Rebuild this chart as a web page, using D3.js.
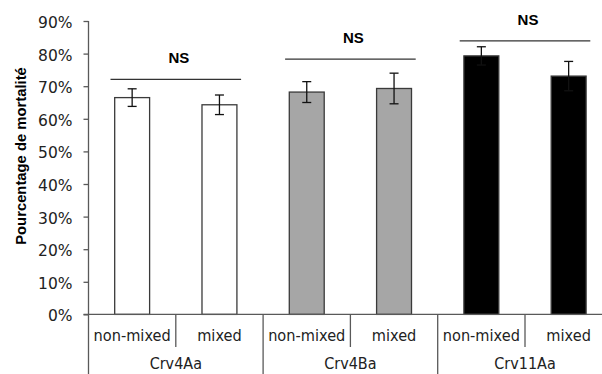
<!DOCTYPE html>
<html>
<head>
<meta charset="utf-8">
<script src="https://cdn.jsdelivr.net/npm/d3@7"></script>
<style>
  html, body { margin: 0; padding: 0; background: #fff; }
  svg { display: block; }
</style>
</head>
<body>
<svg id="chart" width="602" height="374"></svg>
<script>
const groups = ["Crv4Aa", "Crv4Ba", "Crv11Aa"];
const conditions = ["non-mixed", "mixed"];
const values = [66.5, 64.3, 68.2, 69.3, 79.3, 73.1];
const errors = [2.7, 3.0, 3.2, 4.7, 2.8, 4.5];
const nsLevels = [72.1, 78.3, 83.9];
const nsLabels = ["NS", "NS", "NS"];
const yTicks = [0, 10, 20, 30, 40, 50, 60, 70, 80, 90];
const yTitle = "Pourcentage de mortalité";
const groupFills = ["#ffffff", "#a6a6a6", "#000000"];

const rows = [];
groups.forEach((g, gi) => conditions.forEach((c, ci) => {
  const i = gi * conditions.length + ci;
  rows.push({ key: g + "|" + c, group: g, gi, cond: c, value: values[i], err: errors[i] });
}));

const svg = d3.select("#chart");
const axisColor = "#595959";
const x0 = 88.5, x1 = 612.3;
const x = d3.scaleBand().domain(rows.map(d => d.key)).range([x0, x1]).paddingInner(0.6).paddingOuter(0.3);
const xg = d3.scaleBand().domain(groups).range([x0, x1]);
const y = d3.scaleLinear().domain([0, 90]).range([314.4, 21]);

// Y axis
const yAxis = d3.axisLeft(y).tickValues(yTicks).tickSize(5).tickPadding(11).tickFormat(d => d + "%");
const ya = svg.append("g").attr("transform", `translate(${x0},0)`).call(yAxis);
ya.select(".domain").remove();
ya.selectAll(".tick line").attr("stroke", axisColor).attr("stroke-width", 1.3);
ya.selectAll(".tick text").attr("font-family", "DejaVu Sans, sans-serif").attr("font-size", 15.5)
  .attr("fill", "#222").attr("dy", "0.42em");
svg.append("line").attr("x1", x0).attr("x2", x0).attr("y1", y(90)).attr("y2", 374)
  .attr("stroke", axisColor).attr("stroke-width", 1.3);

// Bars
svg.append("g").selectAll("rect").data(rows).join("rect")
  .attr("x", d => x(d.key)).attr("width", x.bandwidth())
  .attr("y", d => y(d.value)).attr("height", d => y(0) - y(d.value))
  .attr("fill", d => groupFills[d.gi]).attr("stroke", "#3a3a3a").attr("stroke-width", 1.3);

// Error bars
const eb = svg.append("g").attr("stroke", "#111").attr("stroke-width", 1.3);
rows.forEach(d => {
  const cx = x(d.key) + x.bandwidth() / 2;
  eb.append("line").attr("x1", cx).attr("x2", cx).attr("y1", y(d.value + d.err)).attr("y2", y(d.value - d.err));
  [d.value + d.err, d.value - d.err].forEach(v => {
    eb.append("line").attr("x1", cx - 4.5).attr("x2", cx + 4.5).attr("y1", y(v)).attr("y2", y(v));
  });
});

// X axis line
svg.append("line").attr("x1", x0 - 5).attr("x2", 602).attr("y1", y(0)).attr("y2", y(0))
  .attr("stroke", axisColor).attr("stroke-width", 1.3);

// Separators
groups.forEach((g, gi) => {
  const gs = xg(g), ge = gs + xg.bandwidth();
  svg.append("line").attr("x1", ge).attr("x2", ge).attr("y1", y(0)).attr("y2", 374)
    .attr("stroke", axisColor).attr("stroke-width", 1.3);
  const mid = gs + xg.bandwidth() / 2;
  svg.append("line").attr("x1", mid).attr("x2", mid).attr("y1", y(0)).attr("y2", 347)
    .attr("stroke", axisColor).attr("stroke-width", 1.3);
});

// X labels
svg.append("g").selectAll("text").data(rows).join("text")
  .attr("transform", d => `translate(${x(d.key) + x.bandwidth() / 2},341) scale(0.94,1)`)
  .attr("text-anchor", "middle").attr("font-family", "DejaVu Sans, sans-serif")
  .attr("font-size", 15.5).attr("fill", "#222").text(d => d.cond);
svg.append("g").selectAll("text").data(groups).join("text")
  .attr("transform", g => `translate(${xg(g) + xg.bandwidth() / 2},369) scale(0.96,1)`)
  .attr("text-anchor", "middle").attr("font-family", "DejaVu Sans, sans-serif")
  .attr("font-size", 15).attr("fill", "#222").text(g => g);

// NS brackets
groups.forEach((g, gi) => {
  const gs = xg(g), ge = gs + xg.bandwidth();
  const ly = y(nsLevels[gi]);
  svg.append("line").attr("x1", gs + 22).attr("x2", ge - 22).attr("y1", ly).attr("y2", ly)
    .attr("stroke", "#333").attr("stroke-width", 1.3);
  svg.append("text").attr("x", gs + xg.bandwidth() / 2 + 3).attr("y", ly - 16)
    .attr("text-anchor", "middle").attr("font-family", "Liberation Sans, Arial, sans-serif")
    .attr("font-weight", "bold").attr("font-size", 15).attr("fill", "#000").text(nsLabels[gi]);
});

// Y title
svg.append("text").attr("transform", `translate(26,156) rotate(-90)`)
  .attr("text-anchor", "middle").attr("font-family", "Liberation Sans, Arial, sans-serif")
  .attr("font-weight", "bold").attr("font-size", 14.8).attr("fill", "#000").text(yTitle);
</script>
</body>
</html>
